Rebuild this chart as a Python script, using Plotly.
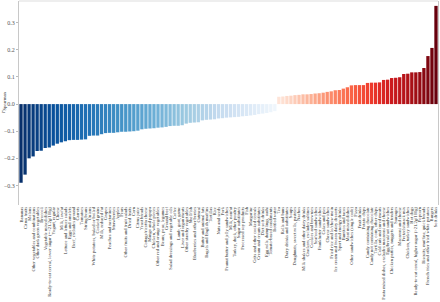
import plotly.graph_objects as go
import plotly.express as px

categories = [
    "Bananas", "Citrus fruits", "Melons", "Other vegetables and combinations",
    "Other dark green vegetables", "Broccoli", "Vegetable mixed dishes",
    "Ready-to-eat cereal, lower sugar (=<21.2g/100g)",
    "Yogurt, regular", "Cheese", "Milk, lowfat", "Lettuce and lettuce salads", "Eggs and omelets",
    "Beef, excludes ground", "Carrots", "Tomatoes", "String beans", "Onions",
    "White potatoes, baked or boiled", "Cooked grains", "Milk, reduced fat", "Grapes",
    "Peaches and nectarines", "Strawberries", "Apples", "Pears", "Other fruits and fruit salads",
    "Dried fruits", "Corn", "Citrus juice", "Yeast breads", "Cottage/ricotta cheese",
    "Mango and papaya", "Chicken, whole pieces", "Other red and orange vegetables",
    "Beans, peas, legumes", "Ground beef", "Salad dressings and vegetable oils", "Coffee",
    "Lamb, goat, game", "Liver and organ meats", "Other starchy vegetables", "Shellfish",
    "Blueberries and other berries", "Oatmeal", "Butter and animal fats",
    "Bagels and English muffins", "Tortillas", "Rice", "Nuts and seeds", "Pork",
    "Peanut butter and jelly sandwiches", "Milk, nonfat", "Turkey, duck, other poultry",
    "Sugar substitutes", "Processed soy products", "Fish", "Margarine",
    "Grits and other cooked cereals", "Cream and cream substitutes", "Diet soft drinks",
    "Egg rolls, dumplings, sushi", "Tomato-based condiments", "Bottled water", "Tea",
    "Rolls and buns", "Dairy drinks and substitutes", "Soups", "Doughnuts, sweet rolls, pastries",
    "Nachos", "Milk shakes and other dairy drinks", "Crackers, excludes saltines",
    "Cookies and brownies", "Seafood sandwiches", "Frankfurter sandwiches", "Cakes and pies",
    "Cheese sandwiches", "Fried rice and lo/chow mein", "Ice cream and frozen dairy desserts",
    "Sport and energy drinks", "Burritos and tacos", "Meat mixed dishes",
    "Other sandwiches (single code)", "Pizza", "Fruit drinks", "Potato chips",
    "Candy containing chocolate", "Candy not containing chocolate", "Tortilla, corn, other chips",
    "Cold cuts and cured meats", "Pasta mixed dishes, excludes macaroni and cheese",
    "Egg/breakfast sandwiches", "Chicken patties, nuggets and tenders", "Sausages",
    "Macaroni and cheese", "Pretzels/snack mix", "Chicken, turkey sandwiches", "Hot dogs",
    "Ready-to-eat cereal, higher sugar (>21.2g/100g)", "Popcorn",
    "Biscuits, muffins, quick breads", "French fries and other fried white potatoes",
    "Burgers", "Soft drinks",
]

rho = [
    -0.29, -0.26, -0.20, -0.193, -0.173, -0.172, -0.162, -0.160, -0.153, -0.146, -0.141, -0.137,
    -0.133, -0.132, -0.132, -0.131, -0.130, -0.117, -0.116, -0.116, -0.111, -0.107, -0.106,
    -0.106, -0.104, -0.102, -0.102,
    -0.101, -0.100, -0.098, -0.093, -0.091, -0.090, -0.089, -0.087, -0.086, -0.084, -0.081,
    -0.080, -0.080, -0.078, -0.072, -0.069, -0.068, -0.067, -0.060, -0.058, -0.057, -0.056,
    -0.053, -0.052, -0.050, -0.049,
    -0.048, -0.047, -0.045, -0.044, -0.042, -0.040, -0.037, -0.035, -0.033, -0.030, -0.026,
    0.027, 0.028, 0.030, 0.031, 0.033, 0.034, 0.036, 0.036, 0.037, 0.039, 0.040, 0.042, 0.045,
    0.047, 0.051, 0.052, 0.057, 0.062, 0.069, 0.070, 0.070, 0.070, 0.078, 0.079, 0.079, 0.080,
    0.089, 0.090, 0.096, 0.097, 0.099, 0.111, 0.112, 0.117, 0.117, 0.118, 0.133, 0.177, 0.207,
    0.362,
]

y_ticks = [-0.3, -0.2, -0.1, 0.0, 0.1, 0.2, 0.3]

assert len(categories) == len(rho), (len(categories), len(rho))
assert len(set(categories)) == len(categories)

# escape "<" / ">" so the labels are not parsed as pseudo-HTML tags
tick_text = [c.replace("<", "&lt;").replace(">", "&gt;") for c in categories]

# colours: separate sequential palettes for negative and positive correlations
n_neg = sum(1 for v in rho if v < 0)
n_pos = len(rho) - n_neg
neg_pts = [1.0 - 0.96 * i / max(n_neg - 1, 1) for i in range(n_neg)]
pos_pts = [0.1 + 0.9 * j / max(n_pos - 1, 1) for j in range(n_pos)]
colors = (px.colors.sample_colorscale(px.colors.sequential.Blues, neg_pts)
          + px.colors.sample_colorscale(px.colors.sequential.Reds, pos_pts))

FONT = "Liberation Serif"

fig = go.Figure(go.Bar(
    x=categories, y=rho,
    marker=dict(color=colors, line=dict(width=0)),
))

fig.update_layout(
    width=440, height=302,
    margin=dict(l=19, r=2, t=1, b=97, autoexpand=False),
    paper_bgcolor="white", plot_bgcolor="white",
    bargap=0.18,
    showlegend=False,
    font=dict(family=FONT, color="#333333"),
)
fig.update_xaxes(
    type="category",
    tickmode="array", tickvals=categories, ticktext=tick_text,
    tickangle=-90, tickfont=dict(size=4.6, family=FONT, color="#333333"),
    ticks="", showline=False, showgrid=False, zeroline=False, automargin=False,
    range=[-0.5, len(categories) - 0.5],
)
fig.update_yaxes(
    range=[-0.372, 0.38],
    tickmode="array", tickvals=y_ticks, tickformat=".1f",
    tickfont=dict(size=6, family=FONT, color="#555555"),
    ticks="outside", ticklen=2, tickcolor="#bbbbbb",
    showline=True, linecolor="#c8c8c8", linewidth=1, mirror=True,
    showgrid=False, zeroline=False, automargin=False,
)
fig.add_shape(type="line", xref="paper", yref="paper", x0=0, x1=1, y0=1, y1=1,
              line=dict(color="#dddddd", width=1))
fig.add_annotation(
    text="<i>r</i><sub>Spearman</sub>", xref="paper", yref="paper",
    x=0, y=0.5, xanchor="right", yanchor="middle", xshift=-10,
    textangle=-90, showarrow=False, font=dict(size=6.5, family=FONT, color="#333333"),
)

fig.write_html(
    "out.html",
    config={"displayModeBar": False},
    post_script="document.body.style.margin='0';document.body.style.overflow='hidden';",
)
